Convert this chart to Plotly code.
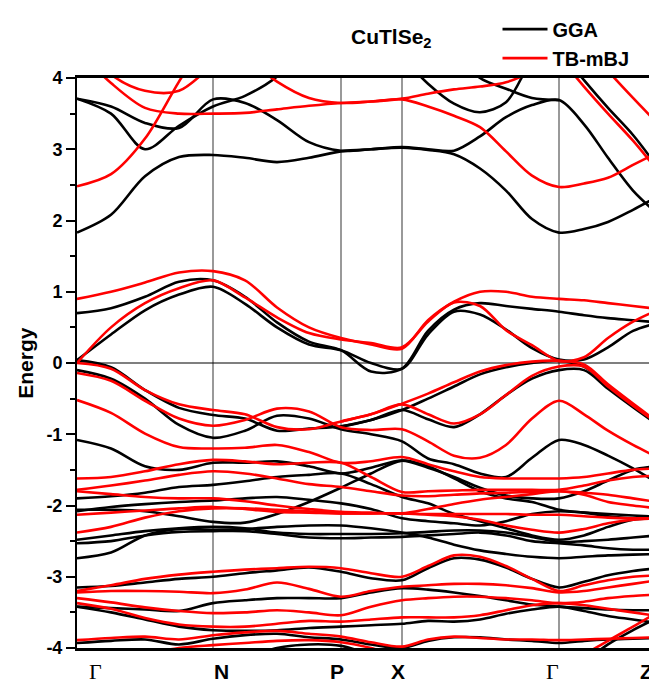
import plotly.graph_objects as go

N = None
# k-path nodes (arbitrary path-length units), high-symmetry points
k_nodes = [0, 34, 68, 102, 136, 168, 200, 232, 264, 294, 325, 351, 377, 403, 429, 455, 482, 507, 531, 556, 580]
sym_k = [0, 136, 264, 325, 482, 580]
sym_labels = ["Γ", "N", "P", "X", "Γ", "Z"]
label_k = [18, 144, 260, 321, 475, 569]

# ---------------- GGA (black) ----------------
gga_conduction = [
    [1.83, 2.08, 2.62, 2.89, 2.92, 2.88, 2.82, 2.88, 2.97, 3.0, 3.02, 2.99, 2.93, 2.73, 2.42, 2.02, 1.83, 1.88, 1.98, 2.15, 2.33],
    [3.71, 3.5, 3.0, 3.33, 3.6, 3.75, 4.02, 4.5, N, N, N, N, N, N, N, N, N, N, N, N, N],
    [3.71, 3.6, 3.37, 3.3, 3.7, 3.65, 3.41, 3.1, 2.98, 3.0, 3.03, 3.0, 2.98, 3.18, 3.45, 3.62, 3.69, 3.35, 2.88, 2.42, 2.1],
    [N, N, N, N, N, N, N, N, N, N, 4.3, 3.92, 3.64, 3.52, 3.66, 4.25, 4.6, N, N, N, N],
    [N, N, N, N, N, N, N, N, N, N, N, N, 4.4, 4.0, 3.85, 3.72, 3.69, N, N, N, N],
    [N, N, N, N, N, N, N, N, N, N, N, N, N, N, N, N, 4.4, 3.97, 3.58, 3.2, 2.76],
]
gga_valence_top = [
    [0.7, 0.77, 0.93, 1.14, 1.16, 0.93, 0.57, 0.3, 0.18, -0.12, -0.08, 0.45, 0.75, 0.84, 0.8, 0.76, 0.72, 0.67, 0.63, 0.6, 0.57],
    [0.04, 0.4, 0.74, 0.96, 1.07, 0.83, 0.5, 0.26, 0.18, 0.0, -0.08, 0.4, 0.72, 0.68, 0.47, 0.21, 0.05, 0.05, 0.22, 0.45, 0.56],
]
gga_valence = [
    [0.04, -0.06, -0.38, -0.63, -0.73, -0.78, -0.95, -0.92, -0.89, -0.8, -0.66, -0.5, -0.33, -0.16, -0.06, 0.0, 0.03, -0.05, -0.33, -0.6, -0.84],
    [N, N, N, N, N, N, N, N, -0.89, -0.8, -0.66, -0.79, -0.9, -0.72, -0.45, -0.22, -0.1, -0.1, -0.36, -0.62, -0.86],
    [-0.1, -0.22, -0.5, -0.87, -1.05, -0.95, -0.74, -0.78, -0.93, -1.0, -1.1, -1.34, -1.42, -1.55, -1.6, -1.33, -1.08, -1.15, -1.3, -1.48, -1.68],
    [-1.08, -1.2, -1.45, -1.5, -1.4, -1.4, -1.38, -1.45, -1.55, -1.47, -1.37, -1.47, -1.6, -1.75, -1.86, -1.9, -1.9, -1.8, -1.65, -1.5, -1.45],
    [-1.9, -1.87, -1.82, -1.74, -1.71, -1.66, -1.6, -1.57, -1.55, -1.7, -1.88, -1.97, -2.12, -2.22, -2.32, -2.42, -2.48, -2.42, -2.3, -2.2, -2.18],
    [-2.06, -2.06, -2.08, -2.15, -2.23, -2.24, -2.12, -1.95, -1.75, -1.55, -1.37, -1.45, -1.62, -1.8, -1.9, -1.95, -2.06, -2.1, -2.15, -2.18, -2.18],
    [-2.08, -2.02, -1.98, -1.95, -1.93, -1.9, -1.88, -1.92, -1.97, -2.05, -2.18, -2.22, -2.25, -2.28, -2.22, -2.12, -2.08, -2.1, -2.12, -2.14, -2.16],
    [-2.48, -2.42, -2.36, -2.32, -2.3, -2.32, -2.38, -2.4, -2.4, -2.4, -2.39, -2.37, -2.35, -2.35, -2.38, -2.44, -2.51, -2.5, -2.48, -2.45, -2.42],
    [-2.53, -2.5, -2.42, -2.37, -2.36, -2.36, -2.4, -2.45, -2.46, -2.45, -2.44, -2.42, -2.4, -2.38, -2.42, -2.5, -2.53, -2.56, -2.6, -2.62, -2.62],
    [-2.74, -2.66, -2.42, -2.33, -2.34, -2.33, -2.3, -2.28, -2.28, -2.32, -2.38, -2.45, -2.55, -2.63, -2.68, -2.72, -2.74, -2.72, -2.7, -2.69, -2.68],
    [-3.15, -3.13, -3.08, -3.03, -3.0, -2.95, -2.91, -2.87, -2.93, -3.02, -3.05, -2.88, -2.74, -2.76, -2.87, -3.03, -3.15, -3.07, -2.98, -2.92, -2.88],
    [-3.42, -3.44, -3.46, -3.48, -3.37, -3.33, -3.3, -3.3, -3.3, -3.22, -3.16, -3.18, -3.22, -3.27, -3.33, -3.39, -3.42, -3.44, -3.46, -3.47, -3.47],
    [-3.42, -3.5, -3.6, -3.7, -3.75, -3.76, -3.75, -3.72, -3.7, -3.68, -3.66, -3.62, -3.63, -3.6, -3.52, -3.46, -3.42, -3.48, -3.55, -3.6, -3.65],
    [-3.93, -3.9, -3.88, -3.95, -3.87, -3.82, -3.8, -3.85, -3.88, -3.95, -4.0, -3.9, -3.85, -3.85, -3.88, -3.9, -3.93, -3.9, -3.88, -3.87, -3.86],
    [N, N, N, N, N, -4.15, -4.0, -3.95, -3.97, -4.1, N, N, N, N, N, N, N, N, N, N, N],
    [N, N, N, N, N, N, N, N, N, N, N, N, N, N, N, N, -4.5, -4.2, -3.95, -3.75, -3.58],
]

# ---------------- TB-mBJ (red) ----------------
mbj_conduction = [
    [2.48, 2.65, 3.15, 3.95, 4.7, N, N, N, N, N, N, N, N, N, N, N, N, N, N, N, N],
    [4.4, 3.93, 3.58, 3.5, 3.5, 3.51, 3.56, 3.61, 3.65, 3.67, 3.71, 3.78, 3.84, 3.88, 3.94, 4.1, 4.4, N, N, N, N],
    [4.6, 4.05, 3.82, 3.82, 4.2, 4.7, N, N, N, N, N, N, N, N, N, N, N, N, N, N, N],
    [N, N, N, N, N, 4.3, 3.95, 3.72, 3.65, 3.67, 3.7, 3.6, 3.47, 3.31, 2.97, 2.63, 2.47, 2.52, 2.6, 2.78, 2.95],
    [N, N, N, N, N, N, N, N, N, N, N, N, N, N, N, N, 4.3, 3.88, 3.5, 3.12, 2.71],
    [N, N, N, N, N, N, N, N, N, N, N, N, N, N, N, N, N, 4.5, 4.1, 3.72, 3.37],
]
mbj_valence_top = [
    [0.9, 1.0, 1.13, 1.27, 1.29, 1.16, 0.78, 0.5, 0.35, 0.26, 0.2, 0.6, 0.86, 1.0, 1.0, 0.93, 0.9, 0.88, 0.84, 0.8, 0.76],
    [0.0, 0.5, 0.84, 1.05, 1.16, 0.92, 0.64, 0.42, 0.33, 0.28, 0.22, 0.58, 0.85, 0.8, 0.46, 0.25, 0.03, 0.08, 0.35, 0.58, 0.74],
]
mbj_valence = [
    [0.0, -0.08, -0.38, -0.58, -0.66, -0.72, -0.9, -0.93, -0.82, -0.72, -0.57, -0.43, -0.27, -0.12, -0.03, 0.02, 0.03, -0.02, -0.3, -0.57, -0.82],
    [N, N, N, N, N, N, N, N, -0.82, -0.72, -0.58, -0.72, -0.85, -0.72, -0.45, -0.18, -0.05, -0.05, -0.33, -0.6, -0.84],
    [-0.14, -0.25, -0.53, -0.78, -0.88, -0.8, -0.64, -0.68, -0.9, -0.94, -0.93, -1.1, -1.3, -1.33, -1.15, -0.78, -0.53, -0.72, -0.95, -1.15, -1.32],
    [-0.52, -0.7, -0.99, -1.18, -1.2, -1.19, -1.15, -1.25, -1.4, -1.38, -1.32, -1.42, -1.52, -1.6, -1.62, -1.62, -1.62, -1.6, -1.55, -1.5, -1.48],
    [-1.62, -1.6, -1.52, -1.42, -1.36, -1.38, -1.42, -1.4, -1.4, -1.6, -1.81, -1.8, -1.79, -1.78, -1.78, -1.78, -1.78, -1.72, -1.65, -1.6, -1.58],
    [-1.78, -1.72, -1.65, -1.57, -1.52, -1.55, -1.62, -1.7, -1.74, -1.8, -1.86, -1.87, -1.85, -1.83, -1.82, -1.81, -1.8, -1.82, -1.85, -1.9, -1.95],
    [-1.8, -1.84, -1.88, -1.9, -1.9, -1.94, -2.0, -2.05, -2.09, -2.1, -2.11, -2.05, -1.98, -1.92, -1.88, -1.84, -1.8, -1.85, -1.95, -2.0, -2.04],
    [-2.13, -2.1, -2.07, -2.04, -2.02, -2.05, -2.09, -2.1, -2.11, -2.11, -2.11, -2.12, -2.12, -2.12, -2.12, -2.13, -2.13, -2.15, -2.17, -2.18, -2.18],
    [-2.38, -2.3, -2.17, -2.08, -2.04, -2.04, -2.06, -2.08, -2.11, -2.11, -2.11, -2.13, -2.15, -2.2, -2.28, -2.34, -2.38, -2.33, -2.25, -2.2, -2.18],
    [-3.2, -3.12, -3.03, -2.97, -2.93, -2.9, -2.88, -2.86, -2.88, -2.95, -3.0, -2.85, -2.7, -2.72, -2.85, -3.03, -3.2, -3.12, -3.05, -3.0, -2.98],
    [-3.22, -3.2, -3.2, -3.21, -3.23, -3.18, -3.08, -3.17, -3.28, -3.2, -3.14, -3.12, -3.1, -3.1, -3.12, -3.16, -3.22, -3.2, -3.15, -3.1, -3.05],
    [-3.3, -3.36, -3.43, -3.48, -3.51, -3.5, -3.47, -3.5, -3.54, -3.42, -3.33, -3.3, -3.28, -3.28, -3.3, -3.33, -3.37, -3.35, -3.3, -3.27, -3.25],
    [-3.37, -3.45, -3.58, -3.67, -3.7, -3.7, -3.66, -3.62, -3.63, -3.6, -3.57, -3.57, -3.57, -3.54, -3.47, -3.4, -3.37, -3.4, -3.45, -3.5, -3.55],
    [-3.89, -3.86, -3.84, -3.88, -3.82, -3.78, -3.76, -3.8, -3.84, -3.92, -3.98, -3.88, -3.84, -3.86, -3.88, -3.88, -3.89, -3.88, -3.87, -3.86, -3.85],
    [N, -4.3, -4.1, -4.0, -3.96, -3.93, -3.9, -3.89, -3.92, -4.0, -4.15, N, N, N, N, N, N, N, N, N, N],
    [N, N, N, N, N, N, N, N, N, N, N, N, N, N, N, N, -4.4, -4.1, -3.9, -3.7, -3.5],
]

y_ticks = [4, 3, 2, 1, 0, -1, -2, -3, -4]

FONT = "Liberation Sans, Arial, sans-serif"
fig = go.Figure()


def add_bands(bands, color, name, first):
    for i, e in enumerate(bands):
        fig.add_trace(go.Scatter(
            x=k_nodes, y=e, mode="lines", name=name, legendgroup=name,
            showlegend=(first and i == 0), hoverinfo="skip",
            line=dict(color=color, width=2.6, shape="spline", smoothing=0.9),
        ))


add_bands(gga_conduction, "black", "GGA", True)
add_bands(gga_valence_top, "black", "GGA", False)
add_bands(gga_valence, "black", "GGA", False)
add_bands(mbj_conduction, "#ff0000", "TB-mBJ", True)
add_bands(mbj_valence_top, "#ff0000", "TB-mBJ", False)
add_bands(mbj_valence, "#ff0000", "TB-mBJ", False)

# vertical lines at high-symmetry points, Fermi level line
for kk in sym_k[1:5]:
    fig.add_shape(type="line", x0=kk, x1=kk, y0=-4, y1=4, xref="x", yref="y",
                  line=dict(color="#555555", width=1.2), layer="below")
fig.add_shape(type="line", x0=0, x1=580, y0=0, y1=0, xref="x", yref="y",
              line=dict(color="black", width=1.2), layer="below")

# k-point labels
for lab, kk in zip(sym_labels, label_k):
    if lab == "Γ":
        fnt = dict(family="Liberation Serif, Times New Roman, serif", size=22, color="black")
    else:
        fnt = dict(family=FONT, size=21, color="black", weight="bold")
    fig.add_annotation(x=kk, y=-0.042, xref="x", yref="paper", text=lab, showarrow=False,
                       font=fnt, xanchor="center", yanchor="middle")

# title and y label
fig.add_annotation(x=0.543, y=1.07, xref="paper", yref="paper", showarrow=False,
                   text="<b>CuTlSe<sub>2</sub></b>", font=dict(family=FONT, size=21, color="black"),
                   xanchor="center", yanchor="middle")
fig.add_annotation(x=-0.09, y=0.5, xref="paper", yref="paper", showarrow=False,
                   text="<b>Energy</b>", textangle=-90, font=dict(family=FONT, size=21, color="black"),
                   xanchor="center", yanchor="middle")

# the page adds an 8 px body margin, so the figure is 8 px smaller and shifted
fig.update_layout(
    width=649, height=680,
    margin=dict(l=69, r=0, t=70, b=40, autoexpand=False),
    paper_bgcolor="white", plot_bgcolor="white",
    showlegend=True,
    legend=dict(x=0.725, y=1.12, xanchor="left", yanchor="top", bgcolor="rgba(0,0,0,0)",
                font=dict(family=FONT, size=20, color="black", weight="bold"),
                itemwidth=45, tracegroupgap=0),
    xaxis=dict(range=[0, 580], showgrid=False, zeroline=False, showticklabels=False,
               ticks="", showline=True, linecolor="black", linewidth=2.5, mirror=True),
    yaxis=dict(range=[-4, 4], tickvals=y_ticks, ticktext=[str(v) for v in y_ticks],
               ticks="outside", ticklen=9, tickwidth=2, tickcolor="black",
               showline=True, linecolor="black", linewidth=2, showgrid=False, zeroline=False,
               tickfont=dict(family=FONT, size=18, color="black", weight="bold"),
               minor=dict(dtick=0.5, ticks="outside", ticklen=5, tickwidth=1.5, tickcolor="black")),
)

fig.write_html("out.html")
